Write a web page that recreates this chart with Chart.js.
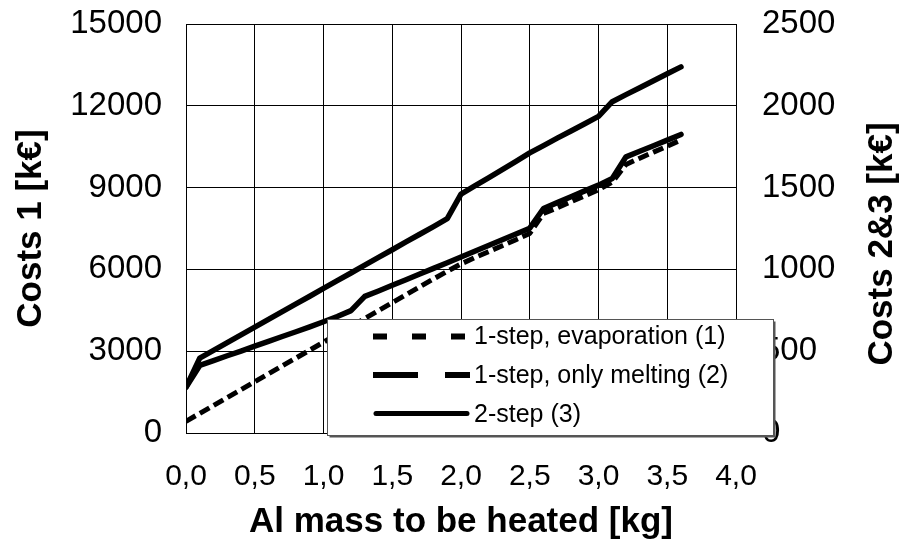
<!DOCTYPE html>
<html>
<head>
<meta charset="utf-8">
<script src="https://cdn.jsdelivr.net/npm/chart.js@4/dist/chart.umd.min.js"></script>
<style>
html,body{margin:0;padding:0;background:#fff;}
#wrap{width:910px;height:548px;}
</style>
</head>
<body>
<div id="wrap"><canvas id="c" width="910" height="548"></canvas></div>
<script>
// ---- data ----
const massKg = [0.0,0.1,0.2,0.3,0.4,0.5,0.6,0.7,0.8,0.9,1.0,1.1,1.2,1.3,1.4,1.5,1.6,1.7,1.8,1.9,2.0,2.1,2.2,2.3,2.4,2.5,2.6,2.7,2.8,2.9,3.0,3.1,3.2,3.3,3.4,3.5,3.6];

// left axis (Costs 1 [k€])
const costsEvaporation = [430,720,1010,1300,1590,1880,2170,2460,2750,3040,3330,3620,3910,4200,4490,4780,5070,5360,5650,5930,6200,6430,6650,6870,7090,7320,8050,8260,8480,8700,8920,9200,9850,10080,10300,10520,10750];

// right axis (Costs 2&3 [k€])
const costsOnlyMelting = [280,458,505,553,600,647,695,742,789,836,884,931,978,1026,1073,1120,1168,1215,1262,1310,1460,1510,1560,1610,1660,1712,1757,1802,1846,1890,1935,2025,2068,2110,2153,2196,2238];
const costsTwoStep = [280,413,442,472,501,531,560,590,619,649,680,712,748,835,868,903,937,972,1006,1041,1076,1111,1146,1181,1216,1252,1372,1408,1444,1480,1515,1556,1688,1722,1756,1790,1825];

const seriesNames = ['1-step, evaporation (1)', '1-step, only melting (2)', '2-step (3)'];
const xTickLabels = ['0,0','0,5','1,0','1,5','2,0','2,5','3,0','3,5','4,0'];
const xTitle = 'Al mass to be heated [kg]';
const yLeftTitle = 'Costs 1 [k€]';
const yRightTitle = 'Costs 2&3 [k€]';

const FONT = "'Liberation Sans', Arial, Helvetica, sans-serif";
Chart.defaults.font.family = FONT;
Chart.defaults.color = '#000';

const toPts = arr => massKg.map((x, i) => ({x: x, y: arr[i]}));

// legend sample styles (as in the reference legend)
const legendStyles = [
  {dash: [14, 25], width: 6, cap: 'butt'},
  {dash: [45, 27], width: 6, cap: 'butt'},
  {dash: [], width: 5, cap: 'round'}
];

const overlayPlugin = {
  id: 'overlay',
  afterDraw(chart) {
    const ctx = chart.ctx;
    ctx.save();
    // right axis title, reading bottom-to-top
    ctx.font = "bold 35px " + FONT;
    ctx.fillStyle = '#000';
    ctx.textAlign = 'center';
    ctx.textBaseline = 'middle';
    ctx.translate(882, 244);
    ctx.rotate(-Math.PI / 2);
    ctx.fillText(yRightTitle, 0, 0);
    ctx.restore();

    // legend box
    ctx.save();
    const bx = 327.5, by = 319.5, bw = 446, bh = 116;
    ctx.fillStyle = '#555';
    ctx.fillRect(bx + 2, by + 2, bw, bh);
    ctx.fillStyle = '#fff';
    ctx.fillRect(bx, by, bw, bh);
    ctx.strokeStyle = '#555';
    ctx.lineWidth = 1;
    ctx.strokeRect(bx, by, bw, bh);

    const rows = [337, 376, 415];
    const lineY = [336.5, 375, 413.5];
    ctx.font = "25px " + FONT;
    ctx.textAlign = 'left';
    ctx.textBaseline = 'middle';
    seriesNames.forEach((name, i) => {
      const st = legendStyles[i];
      ctx.beginPath();
      ctx.setLineDash(st.dash);
      ctx.lineWidth = st.width;
      ctx.lineCap = st.cap;
      ctx.strokeStyle = '#000';
      const x0 = st.cap === 'round' ? 376 : 373;
      const x1 = st.cap === 'round' ? 467 : 470;
      ctx.moveTo(x0, lineY[i]);
      ctx.lineTo(x1, lineY[i]);
      ctx.stroke();
      ctx.setLineDash([]);
      ctx.fillStyle = '#000';
      ctx.fillText(name, 474, rows[i]);
    });
    ctx.restore();
  }
};

function noPad(s) {
  s.paddingTop = 0; s.paddingBottom = 0; s.paddingLeft = 0; s.paddingRight = 0;
}

new Chart(document.getElementById('c'), {
  type: 'line',
  data: {
    datasets: [
      {
        label: seriesNames[0],
        data: toPts(costsEvaporation),
        yAxisID: 'y',
        borderColor: '#000',
        borderWidth: 5,
        borderDash: [11, 5],
        borderCapStyle: 'butt',
        borderJoinStyle: 'round',
        pointRadius: 0,
        tension: 0,
        fill: false
      },
      {
        label: seriesNames[1],
        data: toPts(costsOnlyMelting),
        yAxisID: 'y1',
        borderColor: '#000',
        borderWidth: 5.5,
        borderCapStyle: 'round',
        borderJoinStyle: 'round',
        pointRadius: 0,
        tension: 0,
        fill: false
      },
      {
        label: seriesNames[2],
        data: toPts(costsTwoStep),
        yAxisID: 'y1',
        borderColor: '#000',
        borderWidth: 5.5,
        borderCapStyle: 'round',
        borderJoinStyle: 'round',
        pointRadius: 0,
        tension: 0,
        fill: false
      }
    ]
  },
  options: {
    responsive: false,
    animation: false,
    devicePixelRatio: 1,
    layout: {padding: {top: 24, left: 0, right: 0, bottom: 0}},
    plugins: {
      legend: {display: false},
      tooltip: {enabled: false}
    },
    scales: {
      x: {
        type: 'linear',
        min: 0,
        max: 4,
        afterFit(s) { s.height = 115; noPad(s); },
        ticks: {
          stepSize: 0.5,
          padding: 26,
          font: {size: 30},
          color: '#000',
          maxRotation: 0,
          callback: v => xTickLabels[Math.round(v / 0.5)]
        },
        grid: {color: '#000', lineWidth: 1, drawTicks: false},
        border: {color: '#000', width: 1},
        title: {
          display: true,
          text: xTitle,
          font: {size: 35, weight: 'bold'},
          color: '#000',
          padding: {top: 0, bottom: 5}
        }
      },
      y: {
        position: 'left',
        min: 0,
        max: 15000,
        afterFit(s) { s.width = 186; noPad(s); },
        ticks: {
          stepSize: 3000,
          padding: 24,
          font: {size: 33},
          color: '#000',
          callback: v => String(v)
        },
        grid: {color: '#000', lineWidth: 1, drawTicks: false},
        border: {color: '#000', width: 1},
        title: {
          display: true,
          text: yLeftTitle,
          font: {size: 35, weight: 'bold'},
          color: '#000',
          padding: {top: 10, bottom: 0}
        }
      },
      y1: {
        position: 'right',
        min: 0,
        max: 2500,
        afterFit(s) { s.width = 174; noPad(s); },
        ticks: {
          stepSize: 500,
          padding: 26,
          font: {size: 33},
          color: '#000',
          callback: v => String(v)
        },
        grid: {display: false, drawTicks: false},
        border: {color: '#000', width: 1}
      }
    }
  },
  plugins: [overlayPlugin]
});
</script>
</body>
</html>
